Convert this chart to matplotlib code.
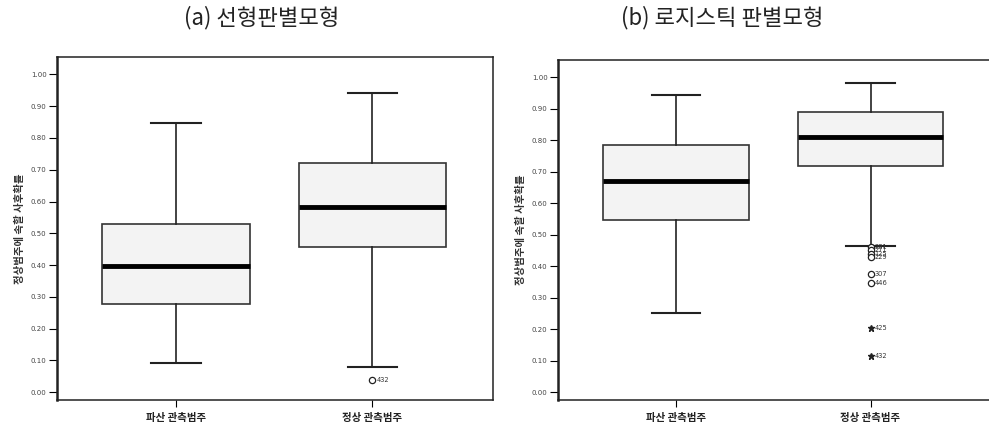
import matplotlib.pyplot as plt
import numpy as np

plt.rcParams['font.family'] = ['Noto Sans CJK KR', 'DejaVu Sans']

categories = ['파산 관측범주', '정상 관측범주']
ylabel = '정상범주에 속할 사후확률'
titles = ['(a) 선형판별모형', '(b) 로지스틱 판별모형']

# (a) linear discriminant model: whislo, q1, med, q3, whishi per category
lda_whislo = [0.092, 0.079]
lda_q1 = [0.278, 0.457]
lda_med = [0.397, 0.582]
lda_q3 = [0.528, 0.721]
lda_whishi = [0.847, 0.941]
lda_out_vals = [0.039]
lda_out_ids = ['432']
lda_out_kind = ['o']

# (b) logistic discriminant model
log_whislo = [0.251, 0.464]
log_q1 = [0.546, 0.717]
log_med = [0.671, 0.812]
log_q3 = [0.786, 0.890]
log_whishi = [0.945, 0.981]
log_out_vals = [0.461, 0.451, 0.440, 0.429, 0.376, 0.347, 0.204, 0.115]
log_out_ids = ['281', '271', '125', '229', '307', '446', '425', '432']
log_out_kind = ['o', 'o', 'o', 'o', 'o', 'o', '*', '*']

yticks = [0.0, 0.1, 0.2, 0.3, 0.4, 0.5, 0.6, 0.7, 0.8, 0.9, 1.0]


def make_stats(whislo, q1, med, q3, whishi):
    stats = []
    for i in range(len(categories)):
        stats.append({'whislo': whislo[i], 'q1': q1[i], 'med': med[i],
                      'q3': q3[i], 'whishi': whishi[i], 'fliers': []})
    return stats


def draw_panel(ax, stats, out_vals, out_ids, out_kind, xmax):
    ax.bxp(stats, positions=[1, 2], widths=0.75, patch_artist=True,
           showfliers=False,
           boxprops=dict(facecolor='#f3f3f3', edgecolor='#333333', linewidth=1.2),
           medianprops=dict(color='black', linewidth=3.5),
           whiskerprops=dict(color='#222222', linewidth=1.2),
           capprops=dict(color='#222222', linewidth=1.5),
           capwidths=0.25)
    for v, lab, k in zip(out_vals, out_ids, out_kind):
        if k == 'o':
            ax.plot(2, v, 'o', mfc='white', mec='#222222', ms=4.5, mew=0.9)
        else:
            ax.plot(2, v, '*', color='#222222', ms=5)
        ax.annotate(lab, (2, v), xytext=(3, 0), textcoords='offset points',
                    va='center', ha='left', fontsize=4.8, color='#333333',
                    family='DejaVu Sans')
    ax.set_xlim(0.393, xmax)
    ax.set_ylim(-0.025, 1.055)
    ax.set_yticks(yticks)
    ax.set_yticklabels([f'{t:.2f}' for t in yticks], fontsize=5,
                       color='#444444', family='DejaVu Sans')
    ax.set_xticks([1, 2])
    ax.set_xticklabels(categories, fontsize=7.5, fontweight='bold',
                       color='#222222')
    ax.tick_params(axis='y', length=6, width=0.8, pad=1.5)
    ax.tick_params(axis='x', length=5, width=0.8, pad=4)
    ax.set_ylabel(ylabel, fontsize=7.5, fontweight='bold', color='#333333',
                  labelpad=4)
    for side in ['left', 'right', 'top', 'bottom']:
        ax.spines[side].set_linewidth(1.1)
        ax.spines[side].set_color('#222222')
    ax.spines['left'].set_linewidth(1.8)


fig = plt.figure(figsize=(9.89, 4.38), dpi=100)
ax1 = fig.add_axes([57 / 989, 38 / 438, 436 / 989, 343 / 438])
ax2 = fig.add_axes([558 / 989, 38 / 438, 437 / 989, 340 / 438])

draw_panel(ax1, make_stats(lda_whislo, lda_q1, lda_med, lda_q3, lda_whishi),
           lda_out_vals, lda_out_ids, lda_out_kind, 2.617)
draw_panel(ax2, make_stats(log_whislo, log_q1, log_med, log_q3, log_whishi),
           log_out_vals, log_out_ids, log_out_kind, 2.64)

fig.text(262 / 989, 1 - 18 / 438, titles[0], ha='center', va='center',
         fontsize=16, color='#222222')
fig.text(722 / 989, 1 - 18 / 438, titles[1], ha='center', va='center',
         fontsize=16, color='#222222')

fig.savefig('out.png', dpi=100)
